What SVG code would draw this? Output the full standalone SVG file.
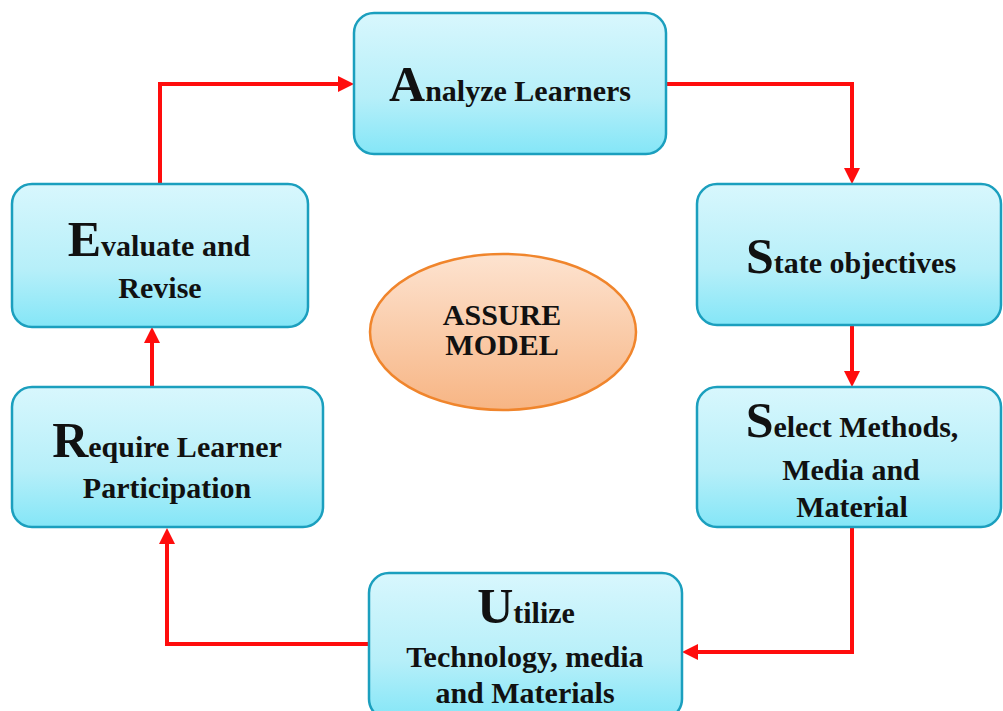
<svg xmlns="http://www.w3.org/2000/svg" width="1003" height="711" viewBox="0 0 1003 711">
  <style>
    .box { fill: url(#boxFill); stroke: #1b9fbe; stroke-width: 2.5; }
    .hub { fill: url(#hubFill); stroke: #f0852c; stroke-width: 2.5; }
    .lbl { font-family: "Liberation Serif", "Times New Roman", serif; font-weight: bold; font-size: 30px; fill: #111; text-anchor: middle; }
    .big { font-size: 50px; }
    .link { fill: none; stroke: #ff0d0d; stroke-width: 4; stroke-linejoin: miter; marker-end: url(#head); }
  </style>
  <defs>
    <linearGradient id="boxFill" x1="0" y1="0" x2="0" y2="1">
      <stop offset="0" stop-color="#d8f7fd"/>
      <stop offset="0.6" stop-color="#b6eff9"/>
      <stop offset="1" stop-color="#84e6f7"/>
    </linearGradient>
    <linearGradient id="hubFill" x1="0" y1="0" x2="0" y2="1">
      <stop offset="0" stop-color="#fde3d0"/>
      <stop offset="1" stop-color="#f7b584"/>
    </linearGradient>
    <marker id="head" markerUnits="userSpaceOnUse" markerWidth="16" markerHeight="16" refX="6" refY="8" orient="auto">
      <path d="M0,0 L16,8 L0,16 z" fill="#ff0d0d"/>
    </marker>
  </defs>

  <!-- connectors -->
  <g id="connectors">
    <path class="link" d="M160,184 V84 H344"/>
    <path class="link" d="M666,84 H852 V174"/>
    <path class="link" d="M852,325 V377"/>
    <path class="link" d="M852,527 V652 H692"/>
    <path class="link" d="M369,644 H167 V538"/>
    <path class="link" d="M152,387 V337"/>
  </g>

  <!-- A -->
  <g id="analyze">
    <rect class="box" x="354" y="13" width="312" height="141" rx="20"/>
    <text class="lbl" x="510" y="101"><tspan class="big">A</tspan>nalyze Learners</text>
  </g>

  <!-- S -->
  <g id="state">
    <rect class="box" x="697" y="184" width="304" height="141" rx="20"/>
    <text class="lbl" x="851" y="273"><tspan class="big">S</tspan>tate objectives</text>
  </g>

  <!-- S -->
  <g id="select">
    <rect class="box" x="697" y="387" width="304" height="140" rx="20"/>
    <text class="lbl" x="852" y="437"><tspan class="big">S</tspan>elect Methods,</text>
    <text class="lbl" x="851" y="480">Media and</text>
    <text class="lbl" x="852" y="517">Material</text>
  </g>

  <!-- U -->
  <g id="utilize">
    <rect class="box" x="369" y="573" width="313" height="146" rx="20"/>
    <text class="lbl" x="526" y="623"><tspan class="big">U</tspan>tilize</text>
    <text class="lbl" x="525" y="667">Technology, media</text>
    <text class="lbl" x="525" y="703">and Materials</text>
  </g>

  <!-- R -->
  <g id="require">
    <rect class="box" x="12" y="387" width="311" height="140" rx="20"/>
    <text class="lbl" x="167" y="457"><tspan class="big">R</tspan>equire Learner</text>
    <text class="lbl" x="167" y="498">Participation</text>
  </g>

  <!-- E -->
  <g id="evaluate">
    <rect class="box" x="12" y="184" width="296" height="143" rx="20"/>
    <text class="lbl" x="159" y="256"><tspan class="big">E</tspan>valuate and</text>
    <text class="lbl" x="160" y="298">Revise</text>
  </g>

  <!-- centre hub -->
  <g id="assure">
    <ellipse class="hub" cx="503" cy="332" rx="133" ry="78"/>
    <text class="lbl" x="502" y="325">ASSURE</text>
    <text class="lbl" x="502" y="355">MODEL</text>
  </g>
</svg>
